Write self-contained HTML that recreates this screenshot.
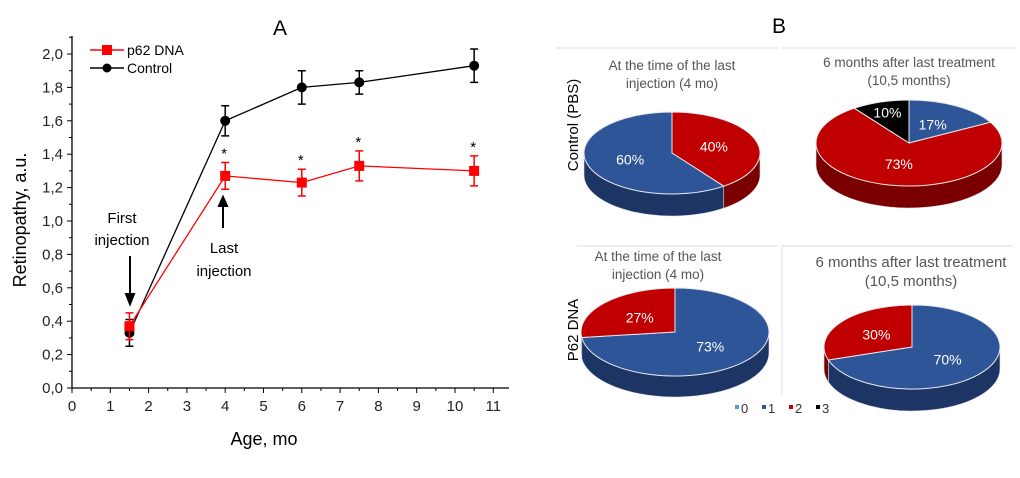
<!DOCTYPE html>
<html><head><meta charset="utf-8"><style>
body{margin:0;background:#fff;width:1020px;height:473px;overflow:hidden;font-family:"Liberation Sans",sans-serif}
svg text{font-family:"Liberation Sans",sans-serif}
</style></head><body>
<svg id="svg" width="1020" height="473" xmlns="http://www.w3.org/2000/svg">
<g id="chartA"></g>
<g id="chartB"></g>
</svg>
<script>
const ages=[1.5,4,6,7.5,10.5];
const p62Vals=[0.37,1.27,1.23,1.33,1.30];
const p62Err=[0.08,0.08,0.08,0.09,0.09];
const ctrlVals=[0.33,1.60,1.80,1.83,1.93];
const ctrlErr=[0.08,0.09,0.10,0.07,0.10];
const xTicks=[0,1,2,3,4,5,6,7,8,9,10,11];
const yTickLabels=["0,0","0,2","0,4","0,6","0,8","1,0","1,2","1,4","1,6","1,8","2,0"];
const yTickVals=[0,0.2,0.4,0.6,0.8,1.0,1.2,1.4,1.6,1.8,2.0];
const starAges=[4,6,7.5,10.5];

const pieTitles=[["At the time of the last","injection (4 mo)"],["6 months after last  treatment","(10,5 months)"],["At the time of the last","injection  (4 mo)"],["6 months after last treatment","(10,5 months)"]];
const pie1Vals=[40,60];const pie1Cats=[2,1];
const pie2Vals=[17,73,10];const pie2Cats=[1,2,3];
const pie3Vals=[73,27];const pie3Cats=[1,2];
const pie4Vals=[70,30];const pie4Cats=[1,2];
const legendCats=["0","1","2","3"];

const NS="http://www.w3.org/2000/svg";
function mk(parent,tag,attrs,txt){const e=document.createElementNS(NS,tag);for(const k in attrs)e.setAttribute(k,attrs[k]);if(txt!==undefined)e.textContent=txt;parent.appendChild(e);return e;}
const A=document.getElementById('chartA');
const X=v=>72+v*38.3, Y=v=>388-v*167;
// axes
let ax=mk(A,'path',{d:`M72,36 L72,388 L509,388`,stroke:'#000','stroke-width':1.3,fill:'none'});


xTicks.forEach(t=>{mk(A,'line',{x1:X(t),x2:X(t),y1:388,y2:393,stroke:'#000'});
 if(t<11)mk(A,'line',{x1:X(t+0.5),x2:X(t+0.5),y1:388,y2:391,stroke:'#000'});
 let l=mk(A,'text',{x:X(t),y:411,'text-anchor':'middle','font-size':15,fill:'#222'},t);
 
 });
yTickVals.forEach((v,i)=>{mk(A,'line',{x1:67,x2:72,y1:Y(v),y2:Y(v),stroke:'#000'});
 mk(A,'line',{x1:69,x2:72,y1:Y(v+0.1),y2:Y(v+0.1),stroke:'#000'});
 let l=mk(A,'text',{x:63,y:Y(v)+5,'text-anchor':'end','font-size':15,fill:'#222'},yTickLabels[i]);
 
 });
let t=mk(A,'text',{x:280,y:35,'text-anchor':'middle','font-size':21},'A');
t=mk(A,'text',{x:264,y:445,'text-anchor':'middle','font-size':18},'Age, mo');
t=mk(A,'text',{x:0,y:0,'text-anchor':'middle','font-size':18,transform:'translate(26,220) rotate(-90)'},'Retinopathy, a.u.');
function series(vals,errs,color,marker,name){
 const g=mk(A,'g',{});
 
 
 mk(g,'polyline',{points:ages.map((a,i)=>X(a)+','+Y(vals[i])).join(' '),stroke:color,fill:'none','stroke-width':1.3});
 ages.forEach((a,i)=>{const x=X(a);
  mk(g,'path',{d:`M${x},${Y(vals[i]-errs[i])}V${Y(vals[i]+errs[i])}M${x-4},${Y(vals[i]-errs[i])}h8M${x-4},${Y(vals[i]+errs[i])}h8`,stroke:color,'stroke-width':1.5,fill:'none'});
  let m=marker==='sq'?mk(g,'rect',{x:x-5,y:Y(vals[i])-5,width:10,height:10,fill:color}):mk(g,'circle',{cx:x,cy:Y(vals[i]),r:5,fill:color});
  
  });
}
series(ctrlVals,ctrlErr,'#000','c','control');
series(p62Vals,p62Err,'#f00','sq','p62');
starAges.forEach((a,i)=>{const idx=ages.indexOf(a);let s=mk(A,'text',{x:X(a)-1,y:Y(p62Vals[idx]+p62Err[idx])-4,'text-anchor':'middle','font-size':15},'*');
 });
// legend
const lg=mk(A,'g',{});
mk(lg,'line',{x1:90,x2:124,y1:50,y2:50,stroke:'#f00','stroke-width':1.5});mk(lg,'rect',{x:102,y:45,width:10,height:10,fill:'#f00'});
mk(lg,'text',{x:127,y:55,'font-size':14},'p62 DNA');
mk(lg,'line',{x1:90,x2:124,y1:68,y2:68,stroke:'#000','stroke-width':1.5});mk(lg,'circle',{cx:107,cy:68,r:4.5,fill:'#000'});
mk(lg,'text',{x:127,y:73,'font-size':14},'Control');
// annotations
mk(A,'text',{x:122,y:223,'text-anchor':'middle','font-size':15},'First');
mk(A,'text',{x:122,y:245,'text-anchor':'middle','font-size':15},'injection');
mk(A,'path',{d:'M130,256 V300 M126,294 L130,304 L134,294 Z',stroke:'#000','stroke-width':2,fill:'#000'});
mk(A,'text',{x:224,y:253,'text-anchor':'middle','font-size':15},'Last');
mk(A,'text',{x:224,y:276,'text-anchor':'middle','font-size':15},'injection');
mk(A,'path',{d:'M223,228 V200 M219,206 L223,197 L227,206 Z',stroke:'#000','stroke-width':2,fill:'#000'});

// Panel B
const B=document.getElementById('chartB');
const topC={0:'#5b9bd5',1:'#2e5597',2:'#c00000',3:'#000'};
const sideC={0:'#3a6a9a',1:'#1c3564',2:'#7a0000',3:'#111'};
t=mk(B,'text',{x:779,y:33,'text-anchor':'middle','font-size':21},'B');
mk(B,'path',{d:'M556,48H778M783,48H1015M577,246H778M782,246V395M782,246H1013',stroke:'#e8e8e8','stroke-width':1.5,fill:'none'});
t=mk(B,'text',{x:0,y:0,'text-anchor':'middle','font-size':15,transform:'translate(578,125) rotate(-90)'},'Control (PBS)');
t=mk(B,'text',{x:0,y:0,'text-anchor':'middle','font-size':15,transform:'translate(578,330) rotate(-90)'},'P62 DNA');
const pies=[{v:pie1Vals,c:pie1Cats,cx:672,cy:153,rx:88,ry:41,d:22,tx:672,ty:70},
 {v:pie2Vals,c:pie2Cats,cx:909,cy:143,rx:93,ry:43,d:22,tx:909,ty:67},
 {v:pie3Vals,c:pie3Cats,cx:675,cy:332,rx:94,ry:44,d:21,tx:658,ty:261},
 {v:pie4Vals,c:pie4Cats,cx:912,cy:347,rx:88,ry:42,d:22,tx:911,ty:267}];
pies.forEach((p,pi)=>{
 const g=mk(B,'g',{});
 const fs=pi===3?15:13.5;
 pieTitles[pi].forEach((ln,li)=>mk(g,'text',{x:p.tx,y:p.ty+li*(pi===3?19:18),'text-anchor':'middle','font-size':fs,fill:'#555'},ln));
 const P=(deg,dy)=>{const r=deg*Math.PI/180;return [p.cx+p.rx*Math.sin(r),p.cy-p.ry*Math.cos(r)+(dy||0)];};
 const tot=p.v.reduce((a,b)=>a+b,0);let a0=0;const segs=p.v.map((v,i)=>{const s={a:a0,b:a0+v/tot*360,c:p.c[i],v};a0=s.b;return s;});
 segs.forEach(s=>{const a=Math.max(s.a,90),b=Math.min(s.b,270);if(b<=a)return;
  const p1=P(a),p2=P(b),q2=P(b,p.d),q1=P(a,p.d);
  mk(g,'path',{d:`M${p1}A${p.rx},${p.ry} 0 0 1 ${p2}L${q2}A${p.rx},${p.ry} 0 0 0 ${q1}Z`,fill:sideC[s.c],stroke:'#dde',"stroke-width":0.6});});
 segs.forEach(s=>{const p1=P(s.a),p2=P(s.b);const large=(s.b-s.a)>180?1:0;
  const w=mk(g,'path',{d:`M${p.cx},${p.cy}L${p1}A${p.rx},${p.ry} 0 ${large} 1 ${p2}Z`,fill:topC[s.c],stroke:'#e8e8f0','stroke-width':1});
  
  
  const m=(s.a+s.b)/2;const f=s.v<15?0.75:0.5;const lx=p.cx+p.rx*f*Math.sin(m*Math.PI/180),ly=p.cy-p.ry*f*Math.cos(m*Math.PI/180);
  mk(g,'text',{x:lx,y:ly+5,'text-anchor':'middle','font-size':14,fill:'#fff'},s.v+'%');});
});
const lgB=mk(B,'g',{});
legendCats.forEach((c,i)=>{const x=735+i*27;mk(lgB,'rect',{x:x,y:405,width:4,height:4,fill:topC[i]});mk(lgB,'text',{x:x+6,y:413,'font-size':13,fill:'#333'},c);});
</script>
</body></html>
